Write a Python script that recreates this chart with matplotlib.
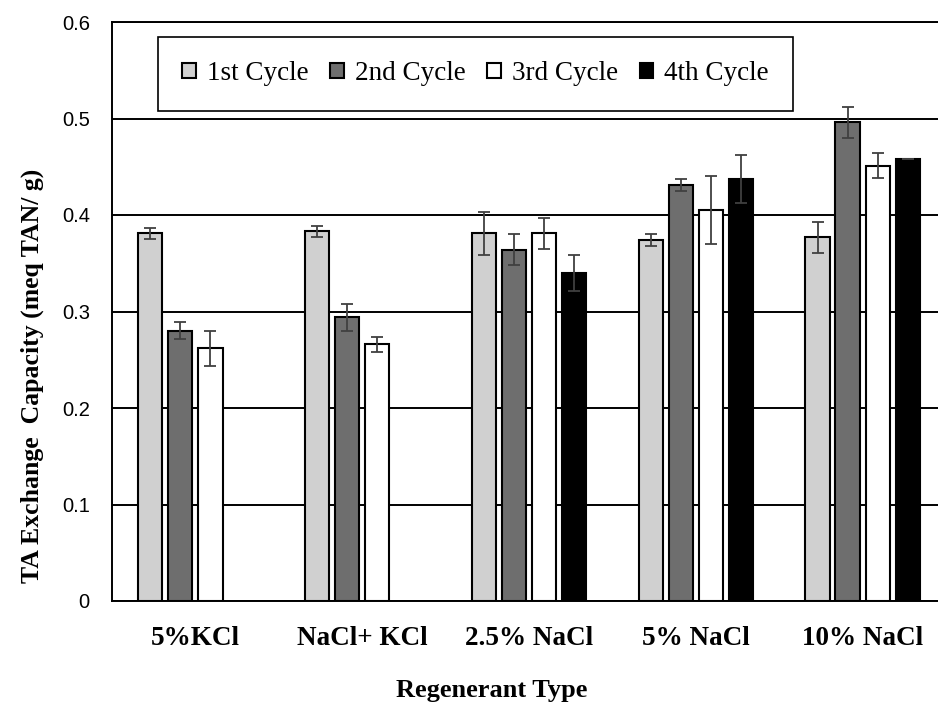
import matplotlib.pyplot as plt
import numpy as np

# regenerant types and exchange capacity per cycle
regenerants = ['5%KCl', 'NaCl+ KCl', '2.5% NaCl', '5% NaCl', '10% NaCl']
cycles = ['1st Cycle', '2nd Cycle', '3rd Cycle', '4th Cycle']

cycle1 = [0.381, 0.383, 0.381, 0.374, 0.377]
cycle2 = [0.280, 0.294, 0.364, 0.431, 0.496]
cycle3 = [0.262, 0.266, 0.381, 0.405, 0.451]
cycle4 = [np.nan, np.nan, 0.340, 0.437, 0.458]

err1 = [0.006, 0.006, 0.022, 0.006, 0.016]
err2 = [0.009, 0.014, 0.016, 0.006, 0.016]
err3 = [0.018, 0.008, 0.016, 0.035, 0.013]
err4 = [np.nan, np.nan, 0.019, 0.025, 0.0]

yticks = [0, 0.1, 0.2, 0.3, 0.4, 0.5, 0.6]
ytick_labels = ['0', '0.1', '0.2', '0.3', '0.4', '0.5', '0.6']

colors = ['#d0d0d0', '#6e6e6e', '#ffffff', '#000000']

fig = plt.figure(figsize=(9.38, 7.04), dpi=100)
ax = fig.add_axes([112/938, 103/704, 834/938, 579/704])

x = np.arange(len(regenerants))
offsets = [-0.27, -0.09, 0.09, 0.27]
values = [cycle1, cycle2, cycle3, cycle4]
errors = [err1, err2, err3, err4]

for i in range(4):
    ax.bar(x + offsets[i], values[i], width=0.145, color=colors[i],
           edgecolor='black', linewidth=1.5, label=cycles[i], zorder=2)
    ax.errorbar(x + offsets[i], values[i], yerr=errors[i], fmt='none',
                ecolor='#404040', elinewidth=1.3, capsize=4.5, capthick=1.3, zorder=3)

ax.set_xlim(-0.5, 4.5)
ax.set_ylim(0, 0.6)
ax.set_yticks(yticks)
ax.set_yticklabels(ytick_labels, fontfamily='Liberation Sans', fontsize=14.5)
ax.set_xticks(x)
ax.set_xticklabels(regenerants, fontfamily='Liberation Serif', fontweight='bold', fontsize=19.5)
ax.tick_params(axis='y', length=0, pad=16)
ax.tick_params(axis='x', length=0, pad=18)

ax.yaxis.grid(True, color='black', linewidth=1.4)
ax.set_axisbelow(True)
for s in ax.spines.values():
    s.set_linewidth(1.4)
    s.set_color('black')

ax.set_ylabel('TA Exchange  Capacity (meq TAN/ g)', fontfamily='Liberation Serif',
              fontweight='bold', fontsize=18.5)
ax.yaxis.set_label_coords(-0.081, 0.388)
fig.text(492/938, 14/704, 'Regenerant Type', ha='center', va='center',
         fontfamily='Liberation Serif', fontweight='bold', fontsize=19)

leg = ax.legend(loc='upper left', bbox_to_anchor=(158/938, 1-37/704, 635/938, 0),
                bbox_transform=fig.transFigure, mode='expand', ncol=4,
                prop={'family': 'Liberation Serif', 'size': 19.5},
                handlelength=0.5, handleheight=0.5, handletextpad=0.4,
                columnspacing=0.6, borderpad=0.9, borderaxespad=0,
                fancybox=False, framealpha=1, edgecolor='black')
leg.get_frame().set_linewidth(1.2)

plt.savefig('out.png', dpi=100)
